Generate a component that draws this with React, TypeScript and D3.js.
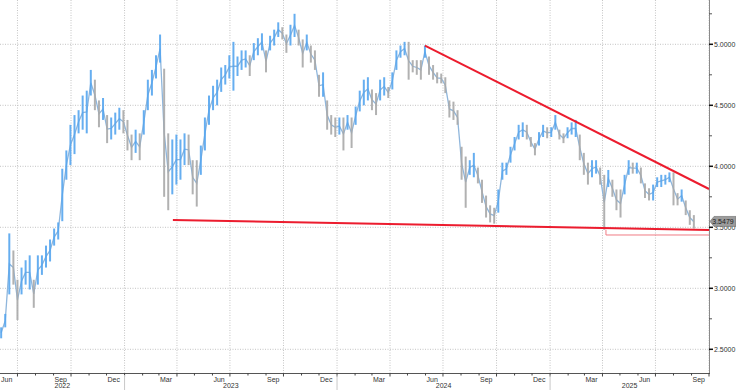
import React from "react";
import * as d3 from "d3";

// Weekly bars starting Fri 3 Jun 2022 (one entry per week)
const weekHigh: number[] = [
  2.68, 2.79, 3.45, 3.31, 3.07, 3.17, 3.23, 3.27, 3.07, 3.27,
  3.27, 3.35, 3.40, 3.49, 3.54, 3.98, 4.13, 4.34, 4.42, 4.46,
  4.58, 4.62, 4.79, 4.71, 4.54, 4.56, 4.42, 4.40, 4.44, 4.48,
  4.46, 4.38, 4.26, 4.30, 4.27, 4.46, 4.71, 4.79, 4.91, 5.08,
  4.80, 4.27, 4.22, 4.26, 4.22, 4.27, 4.26, 4.05, 4.05, 4.17,
  4.40, 4.58, 4.66, 4.71, 4.81, 4.83, 4.91, 5.02, 4.90, 4.95,
  4.95, 4.91, 5.01, 5.05, 5.09, 4.95, 5.07, 5.12, 5.18, 5.14,
  5.08, 5.16, 5.25, 5.12, 5.04, 5.08, 4.99, 4.95, 4.75, 4.77,
  4.54, 4.42, 4.40, 4.40, 4.40, 4.42, 4.40, 4.49, 4.62, 4.71,
  4.73, 4.63, 4.60, 4.71, 4.73, 4.65, 4.77, 4.95, 4.99, 5.02,
  5.02, 4.87, 4.87, 4.87, 4.99, 4.90, 4.83, 4.77, 4.76, 4.73,
  4.54, 4.53, 4.46, 4.16, 4.08, 4.05, 4.11, 3.99, 3.89, 3.76,
  3.68, 3.66, 3.81, 4.03, 4.03, 4.16, 4.24, 4.34, 4.36, 4.34,
  4.24, 4.19, 4.28, 4.34, 4.32, 4.32, 4.42, 4.30, 4.27, 4.32,
  4.36, 4.38, 4.26, 4.11, 4.03, 4.05, 4.05, 3.99, 3.93, 3.97,
  3.89, 3.81, 3.81, 3.93, 4.05, 4.03, 4.03, 3.99, 3.86, 3.82,
  3.85, 3.91, 3.93, 3.93, 3.95, 3.95, 3.78, 3.81, 3.72, 3.64,
  3.60,
];
const weekLow: number[] = [
  2.59, 2.68, 2.95, 3.03, 2.74, 2.95, 3.03, 2.99, 2.84, 3.03,
  3.11, 3.17, 3.22, 3.35, 3.40, 3.55, 3.89, 4.01, 4.10, 4.27,
  4.30, 4.27, 4.58, 4.46, 4.32, 4.38, 4.19, 4.22, 4.26, 4.30,
  4.27, 4.13, 4.05, 4.11, 4.05, 4.26, 4.46, 4.58, 4.72, 4.85,
  3.75, 3.64, 3.77, 3.85, 3.89, 4.01, 4.01, 3.77, 3.67, 3.93,
  4.13, 4.34, 4.46, 4.50, 4.61, 4.67, 4.72, 4.62, 4.74, 4.79,
  4.81, 4.74, 4.87, 4.91, 4.95, 4.77, 4.95, 4.99, 5.06, 5.04,
  4.93, 4.99, 5.06, 4.99, 4.81, 4.95, 4.85, 4.79, 4.57, 4.57,
  4.30, 4.26, 4.24, 4.26, 4.13, 4.30, 4.15, 4.34, 4.45, 4.50,
  4.54, 4.46, 4.42, 4.54, 4.58, 4.56, 4.63, 4.79, 4.89, 4.91,
  4.71, 4.77, 4.75, 4.71, 4.89, 4.75, 4.71, 4.68, 4.68, 4.60,
  4.40, 4.38, 4.34, 3.89, 3.66, 3.93, 3.91, 3.86, 3.70, 3.58,
  3.54, 3.53, 3.62, 3.89, 3.93, 4.03, 4.13, 4.22, 4.24, 4.22,
  4.16, 4.09, 4.17, 4.24, 4.23, 4.24, 4.30, 4.22, 4.19, 4.23,
  4.26, 4.24, 4.05, 3.93, 3.85, 3.91, 3.94, 3.85, 3.48, 3.83,
  3.75, 3.64, 3.58, 3.77, 3.93, 3.94, 3.94, 3.86, 3.74, 3.72,
  3.72, 3.83, 3.83, 3.85, 3.87, 3.68, 3.68, 3.71, 3.60, 3.52,
  3.49,
];
const firstWeek = new Date(2022, 5, 3);
const lastPrice = 3.5479;

const yTicks: number[] = [2.5, 3.0, 3.5, 4.0, 4.5, 5.0];
const yMinorTicks: number[] = [2.75, 3.25, 3.75, 4.25, 4.75, 5.25];
const monthNames: string[] = ["Jan", "Feb", "Mar", "Apr", "May", "Jun", "Jul", "Aug", "Sep", "Oct", "Nov", "Dec"];
const labelMonths: number[] = [2, 5, 8, 11]; // Mar, Jun, Sep, Dec
const years: number[] = [2022, 2023, 2024, 2025];

// Trend lines drawn on the chart
const upperTrend = [
  { date: new Date(2024, 4, 31), value: 4.99 },
  { date: new Date(2025, 9, 1), value: 3.814 },
];
const lowerTrend = [
  { date: new Date(2023, 2, 25), value: 3.56 },
  { date: new Date(2025, 9, 1), value: 3.478 },
];
const thinSupport = [
  { date: new Date(2025, 3, 7), value: 3.48 },
  { date: new Date(2025, 3, 7), value: 3.437 },
  { date: new Date(2025, 9, 1), value: 3.437 },
];

const W = 736;
const H = 390;
const plotRight = 709;
const axisY = 373;

export default function App() {
  const x = d3
    .scaleTime()
    .domain([new Date(2022, 5, 1), new Date(2025, 9, 1)])
    .range([0, plotRight]);
  const y = d3.scaleLinear().domain([2.5, 5.0]).range([349.3, 44.3]);

  const weeks = weekHigh.map((h, i) => ({
    date: d3.timeDay.offset(firstWeek, i * 7),
    high: h,
    low: weekLow[i],
    mid: (h + weekLow[i]) / 2,
  }));

  const months = d3.timeMonth.range(new Date(2022, 6, 1), new Date(2025, 9, 2));
  const quarters = months.filter((m) => m.getMonth() % 3 === 0);
  const labelMonthDates = d3
    .timeMonth.range(new Date(2022, 5, 1), new Date(2025, 9, 1))
    .filter((m) => labelMonths.includes(m.getMonth()));

  const line = d3
    .line<{ date: Date; value: number }>()
    .x((d) => x(d.date))
    .y((d) => y(d.value));

  const midLine = d3
    .line<{ date: Date; mid: number }>()
    .x((d) => x(d.date))
    .y((d) => y(d.mid));

  const blue = "#55a5ee";
  const gray = "#a8a8a8";
  const red = "#ec1c2e";
  const font = "'Liberation Sans', Arial, sans-serif";

  const tagY = y(lastPrice);

  return (
    <svg
      width={W}
      height={H}
      style={{ position: "absolute", left: 0, top: 0, background: "#fff" }}
    >
      <rect x={0} y={0} width={W} height={H} fill="#fff" />
      {/* horizontal grid */}
      {yTicks.map((t) => (
        <line
          key={"hg" + t}
          x1={0}
          x2={plotRight}
          y1={y(t)}
          y2={y(t)}
          stroke="#c4c4c4"
          strokeDasharray="1,1.5"
        />
      ))}
      {/* vertical grid */}
      {quarters.map((q) => (
        <line
          key={"vg" + q.getTime()}
          x1={x(q)}
          x2={x(q)}
          y1={0}
          y2={axisY}
          stroke="#c4c4c4"
          strokeDasharray="1,1.5"
        />
      ))}

      {/* price bars */}
      <path d={midLine(weeks) || ""} fill="none" stroke="#8fb6dc" strokeWidth={1.3} />
      {weeks.map((w, i) => {
        const up = i === 0 ? true : w.mid >= weeks[i - 1].mid;
        return (
          <line
            key={"b" + i}
            x1={x(w.date)}
            x2={x(w.date)}
            y1={y(w.high)}
            y2={y(w.low)}
            stroke={up ? blue : gray}
            strokeWidth={2}
            strokeOpacity={0.9}
          />
        );
      })}

      {/* trend lines */}
      <path d={line(thinSupport) || ""} fill="none" stroke="#f07c84" strokeWidth={1} />
      <path d={line(upperTrend) || ""} fill="none" stroke={red} strokeWidth={2} />
      <path d={line(lowerTrend) || ""} fill="none" stroke={red} strokeWidth={2} />

      {/* right axis */}
      <line x1={plotRight + 0.5} x2={plotRight + 0.5} y1={0} y2={axisY} stroke="#8a8a8a" />
      {yMinorTicks.map((t) => (
        <line key={"mt" + t} x1={plotRight} x2={plotRight + 3} y1={y(t)} y2={y(t)} stroke="#555" />
      ))}
      {yTicks.map((t) => (
        <g key={"yt" + t}>
          <line x1={plotRight} x2={plotRight + 4} y1={y(t)} y2={y(t)} stroke="#111" strokeWidth={1.5} />
          <text
            x={714}
            y={y(t)}
            dy="0.35em"
            fontSize={7}
            fontFamily={font}
            fill="#333"
          >
            {t.toFixed(4)}
          </text>
        </g>
      ))}

      {/* last price tag */}
      <path
        d={`M${plotRight + 1},${tagY} L${plotRight + 5},${tagY - 5} L${W},${tagY - 5} L${W},${tagY + 5} L${plotRight + 5},${tagY + 5} Z`}
        fill="#9c9c9c"
        stroke="#6a6a6a"
        strokeWidth={0.6}
      />
      <text x={723} y={tagY} dy="0.35em" fontSize={7} fontFamily={font} fill="#222" textAnchor="middle">
        {lastPrice.toFixed(4)}
      </text>

      {/* bottom axis */}
      <line x1={0} x2={plotRight + 1} y1={axisY + 0.5} y2={axisY + 0.5} stroke="#555" />
      {months.map((m) => (
        <line
          key={"xt" + m.getTime()}
          x1={x(m)}
          x2={x(m)}
          y1={axisY}
          y2={axisY + (m.getMonth() % 3 === 0 ? 3.5 : 2.5)}
          stroke="#444"
        />
      ))}
      {labelMonthDates.map((m) => (
        <text
          key={"xl" + m.getTime()}
          x={x(m) + 1}
          y={axisY + 7}
          dy="0.35em"
          fontSize={7}
          fontFamily={font}
          fill="#333"
        >
          {monthNames[m.getMonth()]}
        </text>
      ))}
      {years.map((yr) => {
        const a = Math.max(0, x(new Date(yr, 0, 1)));
        const b = Math.min(plotRight, x(new Date(yr + 1, 0, 1)));
        return (
          <g key={"yr" + yr}>
            {yr > 2022 && (
              <line x1={a} x2={a} y1={axisY + 2} y2={H} stroke="#c8c8c8" />
            )}
            <text
              x={(a + b) / 2}
              y={axisY + 13}
              dy="0.35em"
              fontSize={7}
              fontFamily={font}
              fill="#333"
              textAnchor="middle"
            >
              {yr}
            </text>
          </g>
        );
      })}
    </svg>
  );
}
